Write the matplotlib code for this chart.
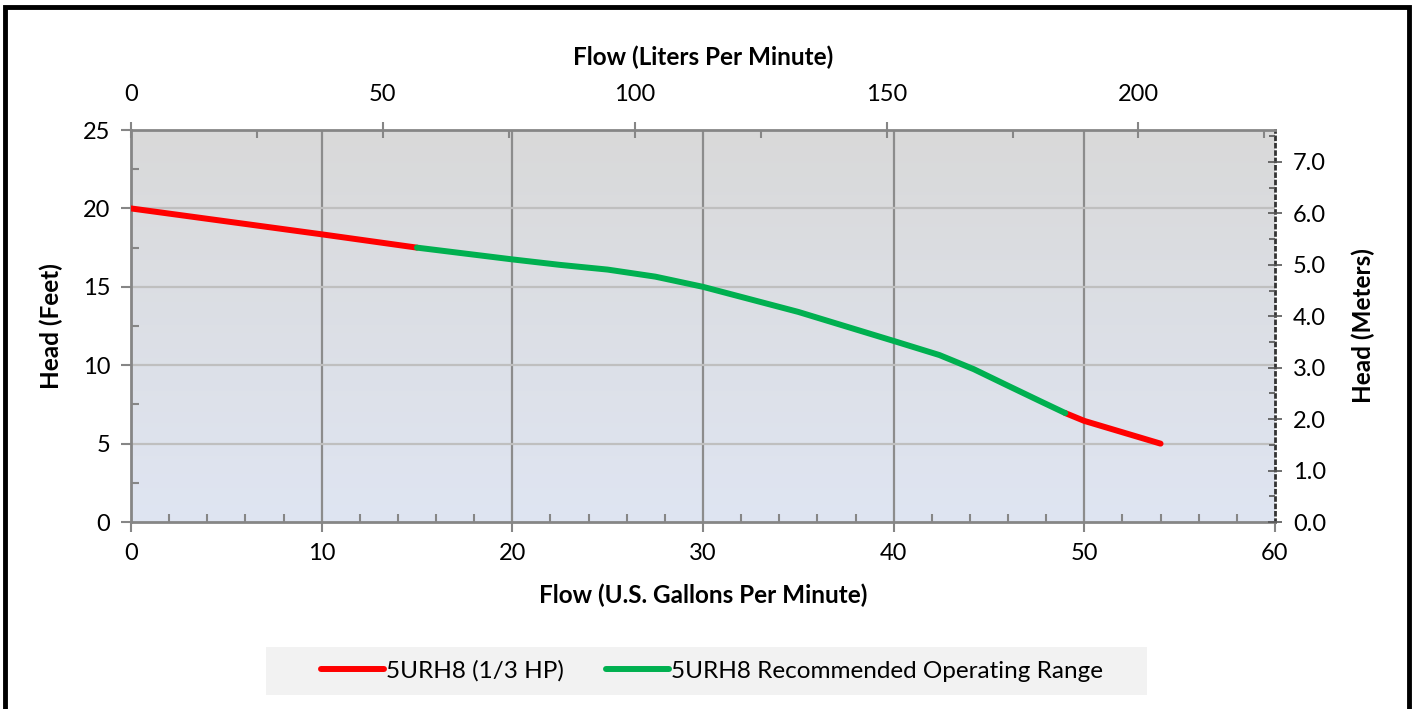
import matplotlib.pyplot as plt
import matplotlib as mpl
from matplotlib.patches import Rectangle
from matplotlib.lines import Line2D
from matplotlib.ticker import MultipleLocator
import numpy as np

plt.rcParams["font.family"] = ["Lato", "DejaVu Sans"]
plt.rcParams["font.size"] = 17

# pump curve (gpm, feet)
red_low_gpm = [0, 10, 15]
red_low_ft = [20.0, 18.35, 17.5]
green_gpm = [15, 20, 22.5, 25, 27.5, 30, 35, 40, 42.4, 44.2, 45.9, 47.7, 49]
green_ft = [17.5, 16.75, 16.4, 16.1, 15.65, 15.0, 13.4, 11.55, 10.65, 9.75, 8.75, 7.7, 6.95]
red_high_gpm = [49, 50, 54]
red_high_ft = [6.95, 6.45, 5.0]

gpm_max = 60
ft_max = 25
lpm_per_gpm = 3.785
m_per_ft = 0.3048

red_label = "5URH8 (1/3 HP)"
green_label = "5URH8 Recommended Operating Range"

fig = plt.figure(figsize=(14.16, 7.09), dpi=100)
ax = fig.add_axes([0.0925, 0.2637, 0.8079, 0.5529])

# gradient background (grey on top, pale blue at bottom)
grad = np.linspace(0, 1, 256).reshape(-1, 1)
cmap = mpl.colors.LinearSegmentedColormap.from_list("bg", ["#D9D9D9", "#DFE5F2"])
ax.imshow(grad, cmap=cmap, aspect="auto", extent=[0, gpm_max, 0, ft_max],
          origin="upper", zorder=0)

ax.set_xlim(0, gpm_max)
ax.set_ylim(0, ft_max)
ax.xaxis.set_major_locator(MultipleLocator(10))
ax.xaxis.set_minor_locator(MultipleLocator(2))
ax.yaxis.set_major_locator(MultipleLocator(5))
ax.yaxis.set_minor_locator(MultipleLocator(2.5))

for v in range(10, gpm_max, 10):
    ax.axvline(v, color="#8C8C8C", lw=1.6, zorder=1)
for v in range(5, ft_max, 5):
    ax.axhline(v, color="#BFBFBF", lw=1.6, zorder=1)

ax.plot(red_low_gpm, red_low_ft, color="#FF0000", lw=4.3, solid_capstyle="round", zorder=3)
ax.plot(red_high_gpm, red_high_ft, color="#FF0000", lw=4.3, solid_capstyle="round", zorder=3)
ax.plot(green_gpm, green_ft, color="#00B050", lw=4.3, solid_capstyle="round",
        solid_joinstyle="round", zorder=4)

for s in ["left", "bottom", "top"]:
    ax.spines[s].set_color("#868686")
    ax.spines[s].set_linewidth(2)
ax.spines["right"].set_color("#333333")
ax.spines["right"].set_linestyle(":")
ax.spines["right"].set_linewidth(2)

ax.tick_params(axis="both", which="major", direction="out", length=7, width=1.5,
               color="#868686", labelsize=17, pad=8)
ax.tick_params(axis="both", which="minor", direction="in", length=6, width=1.5, color="#868686")
ax.set_xlabel("Flow (U.S. Gallons Per Minute)", fontsize=17.5, fontweight="bold", labelpad=14)
ax.set_ylabel("Head (Feet)", fontsize=17.5, fontweight="bold", labelpad=14)

# top axis in liters per minute
axt = ax.twiny()
axt.set_xlim(0, gpm_max * lpm_per_gpm)
axt.xaxis.set_major_locator(MultipleLocator(50))
axt.xaxis.set_minor_locator(MultipleLocator(25))
axt.tick_params(axis="x", which="major", direction="inout", length=12, width=1.5,
                color="#868686", labelsize=17, pad=12)
axt.tick_params(axis="x", which="minor", direction="in", length=6, width=1.5, color="#868686")
axt.set_xlabel("Flow (Liters Per Minute)", fontsize=17.5, fontweight="bold", labelpad=14)
for s in axt.spines.values():
    s.set_visible(False)

# right axis in meters
axr = ax.twinx()
axr.set_ylim(0, ft_max * m_per_ft)
axr.yaxis.set_major_locator(MultipleLocator(1))
axr.yaxis.set_minor_locator(MultipleLocator(0.5))
axr.yaxis.set_major_formatter(mpl.ticker.FormatStrFormatter("%.1f"))
axr.tick_params(axis="y", which="major", direction="inout", length=10, width=1.2,
                color="#555555", labelsize=17, pad=8)
axr.tick_params(axis="y", which="minor", direction="in", length=4, width=1.2, color="#555555")
axr.set_ylabel("Head (Meters)", fontsize=17.5, fontweight="bold", labelpad=18)
for s in axr.spines.values():
    s.set_visible(False)

# legend box
fig.patches.append(Rectangle((266 / 1416, 14 / 709), 881 / 1416, 48 / 709,
                             transform=fig.transFigure, facecolor="#F2F2F2",
                             edgecolor="none", zorder=0))
handles = [Line2D([], [], color="#FF0000", lw=4.3, solid_capstyle="round"),
           Line2D([], [], color="#00B050", lw=4.3, solid_capstyle="round")]
fig.legend(handles, [red_label, green_label], loc="center", ncol=2,
           bbox_to_anchor=(712 / 1416, 38 / 709), frameon=False, fontsize=17.5,
           handlelength=2.6, handletextpad=0.1, columnspacing=1.7)

# outer frame
fig.patches.append(Rectangle((5 / 1416, -0.05), 1404 / 1416, 1.05 - 7 / 709,
                             transform=fig.transFigure, fill=False,
                             edgecolor="black", lw=3.5, zorder=5))

fig.savefig("out.png", dpi=100)
